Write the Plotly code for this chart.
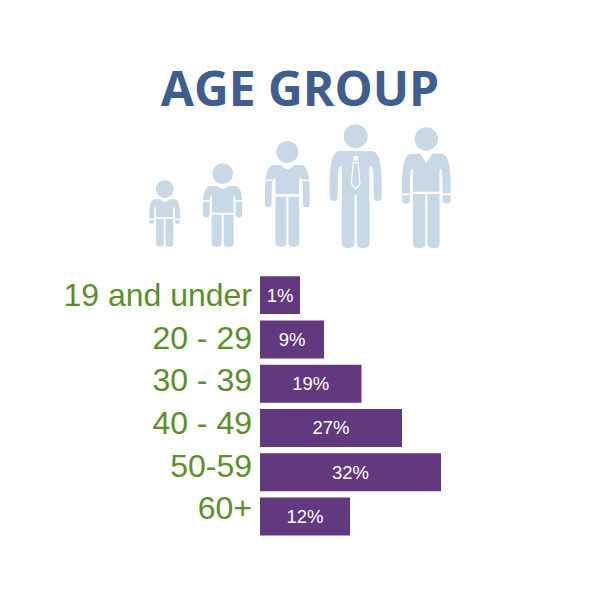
import plotly.graph_objects as go

title = "AGE GROUP"
age_groups = ["19 and under", "20 - 29", "30 - 39", "40 - 49", "50-59", "60+"]
share_labels = ["1%", "9%", "19%", "27%", "32%", "12%"]
bar_lengths = [40, 64, 101.5, 142, 181, 90]

ICON = "#c9d8e7"
BAR = "#62397f"
GREEN = "#5b8f2a"
BLUE = "#3f5d8f"
W = 600.0


def X(zx):
    return (130 + zx / 3) / W


def Y(zy):
    return 1 - (50 + zy / 3) / W


def path(cmds):
    s = ""
    for c in cmds:
        s += c if isinstance(c, str) else f"{X(c[0]):.5f},{Y(c[1]):.5f} "
    return s.strip()


shapes = []


def add_fill(cmds, color=ICON):
    shapes.append(dict(type="path", xref="paper", yref="paper", path=path(cmds),
                       fillcolor=color, line=dict(width=0), layer="above"))


def add_line(cmds, width, color=ICON):
    shapes.append(dict(type="path", xref="paper", yref="paper", path=path(cmds),
                       line=dict(color=color, width=width / 3)))


def round_rect(x0, x1, y0, y1, r):
    return ["M", (x0, y0), "L", (x1, y0), "L", (x1, y1 - r),
            "Q", (x1, y1), (x1 - r, y1), "L", (x0 + r, y1),
            "Q", (x0, y1), (x0, y1 - r), "Z"]


def person(cx, hy, hr, top, outer, hand, arm_w, torso, waist, leg_top, bottom, gap, cuff=None):
    shapes.append(dict(type="circle", xref="paper", yref="paper",
                       x0=X(cx - hr), x1=X(cx + hr), y0=Y(hy + hr), y1=Y(hy - hr),
                       fillcolor=ICON, line=dict(width=0)))
    h = hand - top
    for s in (-1, 1):
        add_fill(["M", (cx, top), "L", (cx + s * (torso + arm_w * 0.3), top),
                  "Q", (cx + s * outer, top + 2), (cx + s * outer, top + h * 0.62),
                  "L", (cx + s * outer, hand - arm_w / 2),
                  "Q", (cx + s * outer, hand), (cx + s * (outer - arm_w / 2), hand),
                  "Q", (cx + s * (outer - arm_w), hand), (cx + s * (outer - arm_w), hand - arm_w / 2),
                  "L", (cx + s * (outer - arm_w), top + h * 0.62),
                  "Q", (cx + s * (outer - arm_w), top + h * 0.3), (cx + s * (torso + 2), top + h * 0.3),
                  "L", (cx, top + h * 0.3), "Z"])
    add_fill(round_rect(cx - torso, cx + torso, top + 10, waist, 0))
    leg_r = (torso - gap / 2) * 0.4
    add_fill(round_rect(cx - torso, cx - gap / 2, leg_top, bottom, leg_r))
    add_fill(round_rect(cx + gap / 2, cx + torso, leg_top, bottom, leg_r))
    if cuff:
        for s in (-1, 1):
            add_line(["M", (cx + s * (outer + 2), cuff), "L", (cx + s * (outer - arm_w - 2), cuff)], 5, "white")
    for s in (-1, 1):
        add_line(["M", (cx + s * (torso + 2), top + h * 0.36), "L", (cx + s * (torso + 2), hand + 2)], 4, "white")


person(104, 417, 27, 448, 46, 522, 15, 26, 502, 507, 590, 5, cuff=508)
add_fill(["M", (88, 446), "Q", (104, 464), (120, 446), "Z"], "white")
person(278, 371, 31, 408, 59, 503, 20, 33, 488, 494, 590, 6, cuff=453)
add_fill(["M", (258, 406), "Q", (278, 426), (298, 406), "Z"], "white")
person(472, 306, 33, 345, 67, 472, 20, 36, 432, 440, 590, 6, cuff=391)
add_fill(["M", (450, 343), "Q", (472, 372), (494, 343), "Z"], "white")
person(677, 259, 36, 303, 78, 453, 24, 42, 436, 430, 594, 6)
add_fill(["M", (670, 318), "L", (684, 318), "L", (684, 332), "L", (670, 332), "Z"], "white")
add_fill(["M", (668, 336), "L", (686, 336), "L", (692, 402), "L", (677, 420), "L", (662, 402), "Z"], "white")
add_fill(["M", (671, 340), "L", (683, 340), "L", (688, 400), "L", (677, 414), "L", (666, 400), "Z"])
person(889, 267, 35, 311, 73, 461, 24, 40, 425, 432, 594, 6, cuff=433)
add_fill(["M", (870, 309), "L", (889, 340), "L", (908, 309), "Z"], "white")

n = len(age_groups)
positions = list(range(n))

fig = go.Figure()
fig.add_trace(go.Bar(
    y=positions, x=bar_lengths, orientation="h", width=0.858,
    marker=dict(color=BAR, line=dict(width=0)),
    text=share_labels, textposition="inside", insidetextanchor="middle", textangle=0,
    textfont=dict(family="Liberation Sans", size=18.5, color="white"),
    hoverinfo="skip", yaxis="y", xaxis="x",
))
fig.add_trace(go.Scatter(
    y=positions, x=[0] * n, mode="markers", marker=dict(opacity=0, size=1),
    hoverinfo="skip", yaxis="y2", xaxis="x",
))

fig.update_layout(
    width=600, height=600, margin=dict(l=0, r=0, t=0, b=0),
    paper_bgcolor="white", plot_bgcolor="rgba(0,0,0,0)", showlegend=False,
    shapes=shapes,
    xaxis=dict(domain=[260 / W, 1], range=[0, 340], visible=False, fixedrange=True),
    yaxis=dict(domain=[1 - 538.6 / W, 1 - 273 / W], range=[n - 0.5, -0.5], showticklabels=False,
               showgrid=False, zeroline=False, showline=False, ticks=""),
    yaxis2=dict(domain=[1 - 529.3 / W, 1 - 273.7 / W], range=[n - 0.5, -0.5], anchor="x", side="left",
                tickmode="array", tickvals=positions, ticktext=age_groups,
                showgrid=False, zeroline=False, showline=False, ticks="", ticklabelstandoff=7,
                tickfont=dict(family="Liberation Sans", size=32, color=GREEN)),
    title=dict(text=title, x=0.5, xanchor="center", y=1 - 89 / W, yanchor="middle",
               font=dict(family="Open Sans", size=48, weight=700, color=BLUE)),
)
fig.write_html("out.html", config=dict(displayModeBar=False),
               post_script="document.body.style.margin='0';")
